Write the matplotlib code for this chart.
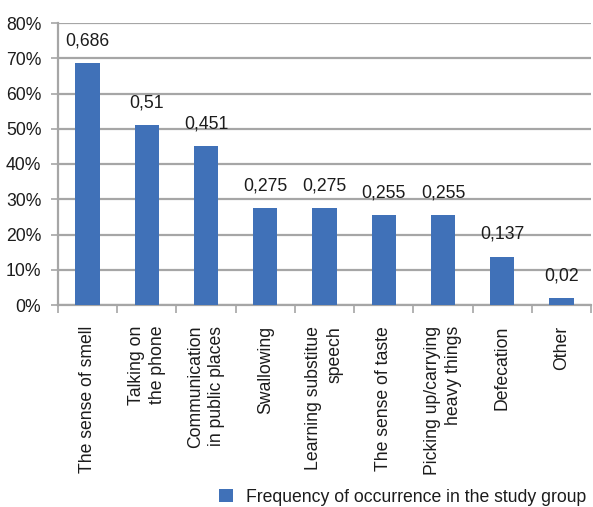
import matplotlib
matplotlib.use("Agg")
import matplotlib.pyplot as plt
from matplotlib.patches import Patch
from matplotlib.ticker import FixedLocator, PercentFormatter

plt.rcParams['font.family'] = ['Liberation Sans', 'DejaVu Sans']

categories = [
    "The sense of smell",
    "Talking on\nthe phone",
    "Communication\nin public places",
    "Swallowing",
    "Learning substitue\nspeech",
    "The sense of taste",
    "Picking up/carrying\nheavy things",
    "Defecation",
    "Other",
]
frequency = [0.686, 0.51, 0.451, 0.275, 0.275, 0.255, 0.255, 0.137, 0.02]
series_name = "Frequency of occurrence in the study group"
y_ticks = [0.0, 0.1, 0.2, 0.3, 0.4, 0.5, 0.6, 0.7, 0.8]

bar_color = "#4071b8"
grid_color = "#a6a6a6"
text_color = "#1c1c1c"
fs = 12.7

W, H = 593, 507
fig = plt.figure(figsize=(W / 100, H / 100), dpi=100)
ax = fig.add_axes([58 / W, 1 - 305 / H, (591 - 58) / W, (305 - 23) / H])

x = list(range(len(categories)))
ax.bar(x, frequency, width=0.41, color=bar_color, zorder=3, label=series_name)

for xi, v in zip(x, frequency):
    ax.annotate(f"{v:g}".replace(".", ","), (xi, v), xytext=(0, 10),
                textcoords="offset points", ha="center", va="bottom",
                fontsize=fs, color=text_color)

ax.set_xlim(-0.5, len(categories) - 0.5)
ax.set_ylim(0, 0.8)
ax.set_yticks(y_ticks)
ax.yaxis.set_major_formatter(PercentFormatter(1.0, decimals=0))
ax.grid(axis="y", color=grid_color, linewidth=1.6, zorder=0)

ax.set_xticks(x)
ax.set_xticklabels(categories, rotation=90, ha="center", va="top",
                   multialignment="right", fontsize=fs, color=text_color,
                   linespacing=1.35)
ax.xaxis.set_minor_locator(FixedLocator([i - 0.5 for i in range(len(categories) + 1)]))
ax.tick_params(axis="x", which="major", length=0, pad=15)
ax.tick_params(axis="x", which="minor", length=6, width=1.2, color=grid_color)
ax.tick_params(axis="y", length=5, width=1.2, color=grid_color, labelsize=fs,
               labelcolor=text_color, pad=7)

for side in ("top", "right"):
    ax.spines[side].set_visible(False)
for side in ("left", "bottom"):
    ax.spines[side].set_color(grid_color)
    ax.spines[side].set_linewidth(1.6)

handle = Patch(facecolor=bar_color, edgecolor="none")
fig.legend([handle], [series_name], loc="center left",
           bbox_to_anchor=(219 / W, 1 - 497 / H), frameon=False, fontsize=fs,
           borderaxespad=0, borderpad=0,
           handlelength=0.8, handleheight=0.8, handletextpad=0.75,
           labelcolor=text_color)

fig.savefig("out.png", dpi=100)
